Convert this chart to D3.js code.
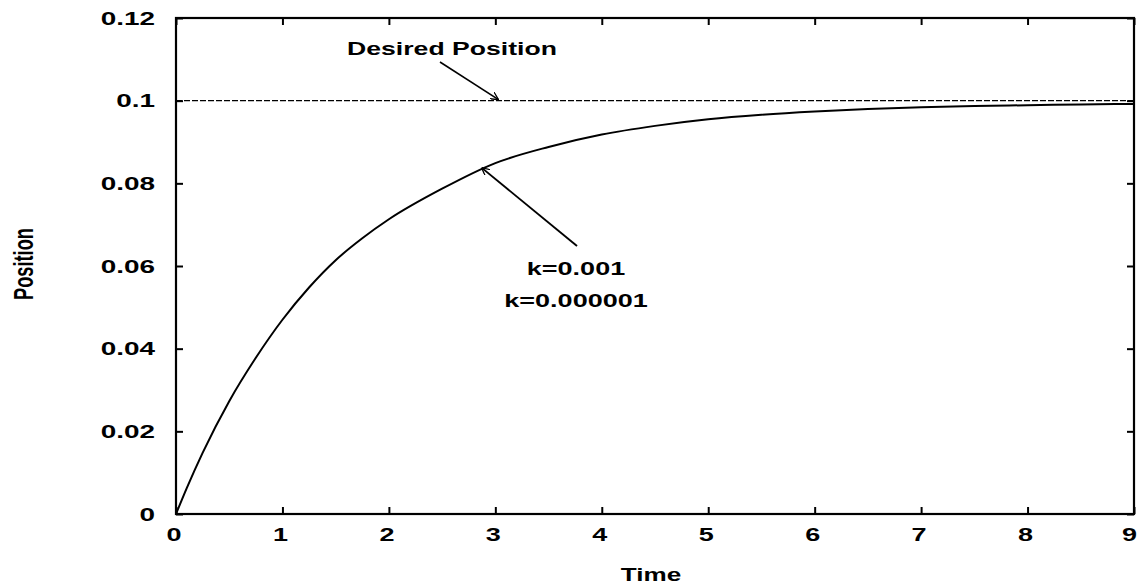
<!DOCTYPE html>
<html>
<head>
<meta charset="utf-8">
<script src="https://cdn.jsdelivr.net/npm/d3@7"></script>
<style>
  html, body { margin: 0; padding: 0; background: #fff; }
  svg { display: block; }
  text { font-family: "Liberation Sans", Arial, Helvetica, sans-serif; font-weight: bold; fill: #000; }
</style>
</head>
<body>
<svg id="chart" width="1138" height="586"></svg>
<script>
// Step response of the position loop
const timeValues = [0, 0.1, 0.25, 0.5, 0.75, 1, 1.25, 1.5, 1.75, 2, 2.5, 3, 3.5, 4, 4.5, 5, 5.5, 6, 6.5, 7, 7.5, 8, 8.5, 9];
const positionValues = [0, 0.0062, 0.0148, 0.0273, 0.0378, 0.0470, 0.0548, 0.0614, 0.0667, 0.0713, 0.0787, 0.0849, 0.0888, 0.0918, 0.0939, 0.0955, 0.0966, 0.0974, 0.0980, 0.0984, 0.0987, 0.0989, 0.0991, 0.0992];
const desiredPosition = 0.1;
const xTicks = [0, 1, 2, 3, 4, 5, 6, 7, 8, 9];
const yTicks = [0, 0.02, 0.04, 0.06, 0.08, 0.1, 0.12];
const yTickLabels = ["0", "0.02", "0.04", "0.06", "0.08", "0.1", "0.12"];
const curveLabels = ["k=0.001", "k=0.000001"];

const svg = d3.select("#chart");
const width = 1138;
const plotLeft = 176, plotRight = 1134, plotTop = 18, plotBottom = 514;

const x = d3.scaleLinear().domain([0, 9]).range([plotLeft, plotRight]);
const y = d3.scaleLinear().domain([0, 0.12]).range([plotBottom, plotTop]);

// wide bold lettering: text stretched horizontally around its anchor
function wideText(px, py, str, size, sx, anchor) {
  return svg.append("text")
    .attr("transform", `translate(${px},${py}) scale(${sx},1)`)
    .attr("text-anchor", anchor || "middle")
    .attr("font-size", size)
    .text(str);
}

// arrow marker (open head)
svg.append("defs").append("marker")
  .attr("id", "arrow")
  .attr("viewBox", "0 0 10 10")
  .attr("refX", 10).attr("refY", 5)
  .attr("markerWidth", 8).attr("markerHeight", 8)
  .attr("markerUnits", "userSpaceOnUse")
  .attr("orient", "auto")
  .append("path")
  .attr("d", "M0,0 L10,5 L0,10")
  .attr("fill", "none")
  .attr("stroke", "#000")
  .attr("stroke-width", 1.6);

// frame
svg.append("rect")
  .attr("x", plotLeft).attr("y", plotTop)
  .attr("width", plotRight - plotLeft).attr("height", plotBottom - plotTop)
  .attr("fill", "none").attr("stroke", "#000").attr("stroke-width", 2.2);

// inward ticks on all four sides
const tickLen = 7;
function styleAxis(g) {
  g.select(".domain").remove();
  g.selectAll(".tick line").attr("stroke", "#000").attr("stroke-width", 2);
}
svg.append("g").attr("transform", `translate(0,${plotBottom})`)
  .call(d3.axisBottom(x).tickValues(xTicks).tickSize(-tickLen).tickFormat("")).call(styleAxis);
svg.append("g").attr("transform", `translate(0,${plotTop})`)
  .call(d3.axisTop(x).tickValues(xTicks).tickSize(-tickLen).tickFormat("")).call(styleAxis);
svg.append("g").attr("transform", `translate(${plotLeft},0)`)
  .call(d3.axisLeft(y).tickValues(yTicks).tickSize(-tickLen).tickFormat("")).call(styleAxis);
svg.append("g").attr("transform", `translate(${plotRight},0)`)
  .call(d3.axisRight(y).tickValues(yTicks).tickSize(-tickLen).tickFormat("")).call(styleAxis);

// tick labels (the last one is kept inside the page edge)
xTicks.forEach(d => {
  const last = x(d) + 10 > width;
  wideText(last ? width - 1 : x(d) - 2, plotBottom + 27, String(d), 18, 1.5, last ? "end" : "middle");
});
yTicks.forEach((d, i) => wideText(plotLeft - 21, y(d) + 6.5, yTickLabels[i], 18, 1.55, "end"));

// desired position reference (dashed)
svg.append("line")
  .attr("x1", x(0)).attr("x2", x(9))
  .attr("y1", y(desiredPosition)).attr("y2", y(desiredPosition))
  .attr("stroke", "#000").attr("stroke-width", 1.4)
  .attr("stroke-dasharray", "6,2");

// response curve
const line = d3.line()
  .x((d, i) => x(timeValues[i]))
  .y(d => y(d))
  .curve(d3.curveMonotoneX);

svg.append("path")
  .datum(positionValues)
  .attr("d", line)
  .attr("fill", "none")
  .attr("stroke", "#000")
  .attr("stroke-width", 2);

// annotations
wideText(452, 55, "Desired Position", 19, 1.4, "middle");
svg.append("line")
  .attr("x1", 440).attr("y1", 62)
  .attr("x2", x(3.03)).attr("y2", y(desiredPosition) - 1)
  .attr("stroke", "#000").attr("stroke-width", 1.6)
  .attr("marker-end", "url(#arrow)");

svg.append("line")
  .attr("x1", 577).attr("y1", 246)
  .attr("x2", x(2.87)).attr("y2", y(0.0838))
  .attr("stroke", "#000").attr("stroke-width", 1.9)
  .attr("marker-end", "url(#arrow)");

curveLabels.forEach((d, i) => wideText(576, 275 + i * 32, d, 18, 1.5, "middle"));

// axis titles, centred on their axes
wideText((plotLeft + plotRight) / 2 - 4, 581, "Time", 18, 1.45, "middle");
svg.append("text")
  .attr("transform", `translate(33,${(plotTop + plotBottom) / 2 - 2}) rotate(-90) scale(0.65,1)`)
  .attr("text-anchor", "middle").attr("font-size", 28)
  .text("Position");
</script>
</body>
</html>
